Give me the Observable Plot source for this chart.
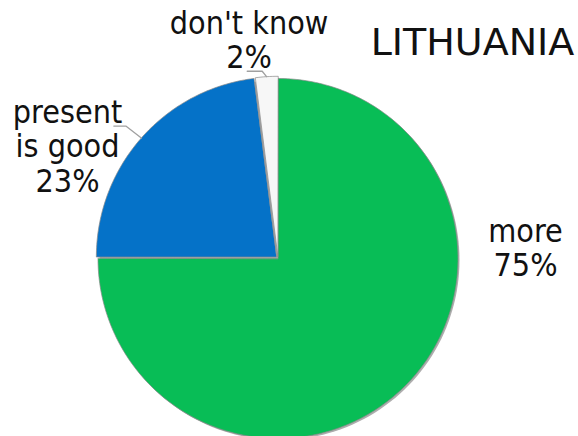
<!DOCTYPE html>
<html>
<head>
<meta charset="utf-8">
<script src="https://cdn.jsdelivr.net/npm/d3@7"></script>
<script src="https://cdn.jsdelivr.net/npm/@observablehq/plot@0.6"></script>
<style>
  html, body { margin: 0; padding: 0; background: #fff; }
  #chart svg { display: block; }
  .lbl { font-family: "DejaVu Sans Condensed", "DejaVu Sans"; font-stretch: condensed; }
</style>
</head>
<body>
<div id="chart"></div>
<script>
// ---- data ----
const categories = ["more", "present is good", "don't know"];
const values = [75, 23, 2];
const labelWords = [["more"], ["present", "is good"], ["don't know"]];
const title = "LITHUANIA";

// ---- style / layout ----
const colors = ["#08BD56", "#0572C8", "#F7F7F7"];
const W = 578, H = 436;
const cx = 277.5, cy = 258, R = 180;
const explode = [0, 2.2, 2.2];
// label anchors (center x, first baseline y), line gap
const labelPos = [[525, 241], [67, 122], [248.5, 33]];
const lineGap = 34.5;

// ---- geometry from data ----
const total = d3.sum(values);
let acc = 0;
const slices = values.map((v, i) => {
  const a0 = acc / total * 2 * Math.PI;
  acc += v;
  const a1 = acc / total * 2 * Math.PI;
  const mid = (a0 + a1) / 2;
  const ox = explode[i] * Math.sin(mid), oy = -explode[i] * Math.cos(mid);
  const pts = [{x: cx + ox, y: cy + oy}];
  const n = Math.max(4, Math.ceil((a1 - a0) / (Math.PI / 180)));
  for (let k = 0; k <= n; k++) {
    const a = a0 + (a1 - a0) * k / n;
    pts.push({x: cx + ox + R * Math.sin(a), y: cy + oy - R * Math.cos(a)});
  }
  return {i, cat: categories[i], value: v, mid, pts, ox, oy};
});

// shadow circle
const shadowPts = d3.range(0, 361, 2).map(d => {
  const a = d * Math.PI / 180;
  return {x: cx + 1.5 + R * Math.sin(a), y: cy + 1.5 - R * Math.cos(a)};
});

// leader lines for the small (left) slices
const leaders = slices.filter(s => s.i > 0).map(s => {
  const p0 = {x: cx + s.ox + R * Math.sin(s.mid), y: cy + s.oy - R * Math.cos(s.mid)};
  const rr = s.i === 1 ? 1.1 : 1.03;
  const p1 = {x: cx + s.ox + R * rr * Math.sin(s.mid) + (s.i === 1 ? -2 : -4), y: cy + s.oy - R * rr * Math.cos(s.mid)};
  const p2 = {x: p1.x - (s.i === 1 ? 12 : 15), y: p1.y};
  return {i: s.i, pts: [p0, p1, p2]};
});

// label lines
const labelRows = [];
slices.forEach(s => {
  const lines = [...labelWords[s.i], `${s.value}%`];
  lines.forEach((t, j) => labelRows.push({text: t, x: labelPos[s.i][0], y: labelPos[s.i][1] + j * lineGap}));
});

const marks = [
  Plot.line(shadowPts, {x: "x", y: "y", curve: "linear-closed", fill: "#6a6a6a", fillOpacity: 0.55, stroke: "none"}),
  ...slices.map(s => Plot.line(s.pts, {x: "x", y: "y", curve: "linear-closed", fill: colors[s.i], stroke: "#8a8a8a", strokeWidth: 0.7})),
  ...leaders.map(l => Plot.line(l.pts, {x: "x", y: "y", stroke: "#a0a0a0", strokeWidth: 1.3})),
  Plot.text(labelRows, {x: "x", y: "y", text: "text", fontSize: 32, fill: "#111", textAnchor: "middle", lineAnchor: "bottom", className: "lbl"}),
  Plot.text([title], {x: () => 472, y: () => 54, text: d => d, fontSize: 38, fill: "#111", fontFamily: "DejaVu Sans", textAnchor: "middle", lineAnchor: "bottom"})
];

const chart = Plot.plot({
  width: W, height: H,
  margin: 0,
  x: {type: "identity", axis: null},
  y: {type: "identity", axis: null},
  style: {background: "#fff", fontFamily: "DejaVu Sans", overflow: "visible"},
  marks
});
document.getElementById("chart").append(chart);
</script>
</body>
</html>
